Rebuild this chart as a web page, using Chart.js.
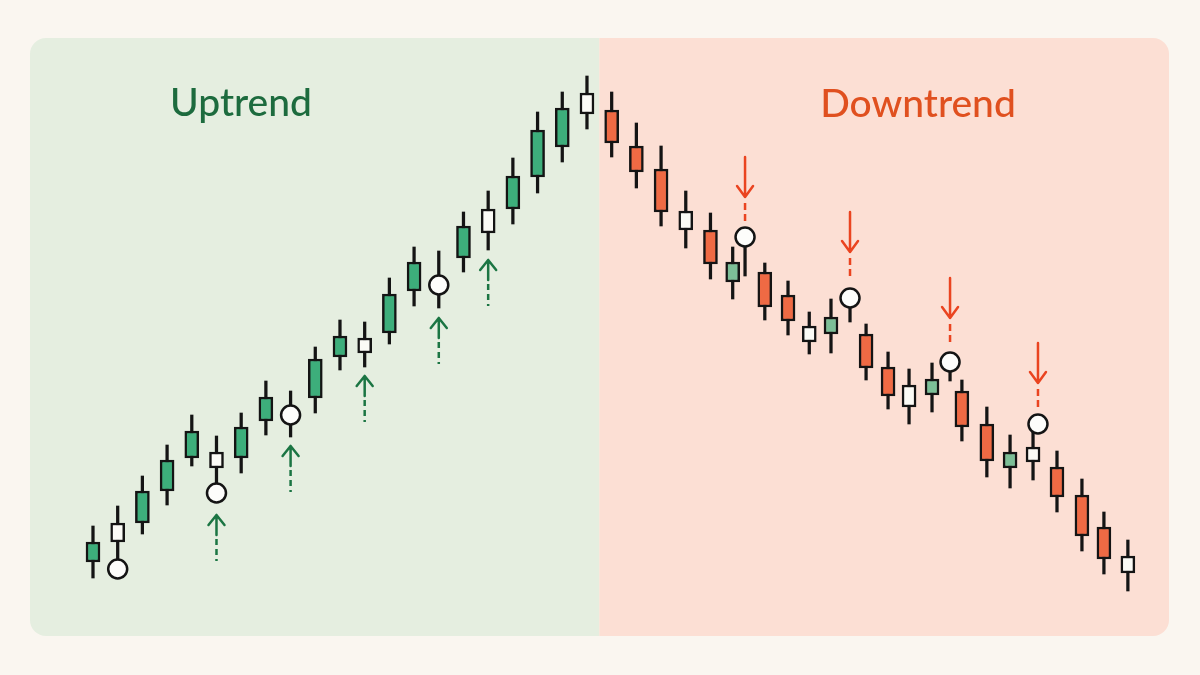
<!DOCTYPE html>
<html>
<head>
<meta charset="utf-8">
<script src="https://cdn.jsdelivr.net/npm/chart.js@4/dist/chart.umd.min.js"></script>
<style>
  html, body { margin: 0; padding: 0; background: #faf6f0; }
  canvas { display: block; }
</style>
</head>
<body>
<canvas id="c" width="1200" height="675"></canvas>
<script>
// ---- Data (time index, prices) ----
const candleX = [0,1,2,3,4,5,6,7,8,9,10,11,12,13,14,15,16,17,18,19,20,
  21,22,23,24,25,25.9,26.4,27.2,28.14,29,29.88,30.65,31.3,32.19,33.04,33.97,34.7,35.18,36.19,37.13,38.06,39.03,40.04,40.93,41.9];
const candleHigh = [28.5,33.5,41,48.75,56.25,51,56.75,64.75,62.25,73.25,80,79.5,90.5,98.25,97.25,107,112.25,120.5,132,137,141,
  137,129.25,123.5,112.25,106.75,98.25,100.75,94.25,89.75,82,85.25,85.5,79,72,67.75,69.25,69.5,65,58.25,51.25,54,47.25,40.25,32,25];
const candleLow = [15.5,17.75,26.5,33.75,43.5,36.75,41.75,51.25,50.75,56.75,67.5,68.25,74,83.5,83,92,97.5,104,111.75,119.5,127.75,
  120.75,113,103.5,98,90.25,85.25,91,80,76.25,71.5,71.75,79.5,65,57.75,54,57,64.75,49.75,40.75,38,40,32,22.25,16.5,12.25];
const candleOpen = [19.5,29.25,29.25,37.25,45.5,47,45.5,54.75,58,60.5,70.75,75.5,76.75,87.25,null,95.5,107.75,107.75,115.75,123.25,136.75,
  132.5,123.5,117.75,107.25,102.5,89.5,null,92,86.25,78.5,76.5,null,76.5,68.25,63.75,61.25,null,62.25,54,43,48.25,43.25,36.25,28.25,21];
const candleClose = [24.5,24.5,37.25,45,52.25,43,53.25,60.75,54.5,70.25,76,71.75,86.5,94.5,null,103.5,101.75,116,127.5,133,131.5,
  124.25,117,107,102.5,94,94.5,null,83.25,79.75,74.5,80.75,null,68,61,58.25,65.25,null,53.25,44.75,47,44.5,35.75,26,20.25,16.75];
const candleKind = ['up','flat','up','up','up','flat','up','up','flat','up','up','flat','up','up','pivot','up','flat','up','up','up','flat',
  'down','down','down','flat','down','weak','pivot','down','down','flat','weak','pivot','down','down','flat','weak','pivot','down','down','weak','flat','down','down','down','flat'];

const swingX = [1,5,8,14,26.4,30.65,34.7,38.26];
const swingY = [17.75,36.75,56.25,88.75,100.75,85.5,69.5,54];

const upArrowX = [5,8,11,14,16];
const upArrowTip = [31.25,48.5,66,80.5,95];
const downArrowX = [26.4,30.65,34.7,38.26];
const downArrowTip = [110.75,97,80.5,64.25];

const phaseLabels = ['Uptrend','Downtrend'];
const phaseSplit = 20.5;

// ---- Styles ----
const kindColor = { up:'#3dae7b', down:'#ef6a44', flat:'#fbfbf6', weak:'#7cbf97', pivot:'rgba(0,0,0,0)' };
const INK = '#141414';

const bodyData = [], wickData = [], bodyColors = [];
candleX.forEach((x, i) => {
  wickData.push({ x, y: [candleLow[i], candleHigh[i]] });
  if (candleOpen[i] !== null) {
    bodyData.push({ x, y: [Math.min(candleOpen[i], candleClose[i]), Math.max(candleOpen[i], candleClose[i])] });
    bodyColors.push(kindColor[candleKind[i]]);
  }
});
const swingData = swingX.map((x, i) => ({ x, y: swingY[i] }));

const bgPlugin = {
  id: 'bg',
  beforeDraw(chart) {
    const ctx = chart.ctx;
    const xs = chart.scales.x;
    const split = xs.getPixelForValue(phaseSplit);
    ctx.save();
    ctx.fillStyle = '#faf6f0';
    ctx.fillRect(0, 0, chart.width, chart.height);
    const L = 30, T = 38, R = 1169, B = 636, r = 16;
    ctx.beginPath();
    ctx.roundRect(L, T, R - L, B - T, r);
    ctx.clip();
    ctx.fillStyle = '#e5eee0';
    ctx.fillRect(L, T, split - L, B - T);
    ctx.fillStyle = '#fcdfd4';
    ctx.fillRect(split, T, R - split, B - T);
    ctx.restore();
    // titles
    ctx.save();
    ctx.font = '500 39px Lato';
    ctx.textAlign = 'center';
    ctx.textBaseline = 'alphabetic';
    ctx.fillStyle = '#1d6b3e';
    ctx.fillText(phaseLabels[0], 241, 116);
    ctx.fillStyle = '#e0501f';
    ctx.fillText(phaseLabels[1], 918, 117);
    ctx.restore();
  }
};

const arrowPlugin = {
  id: 'arrows',
  afterDatasetsDraw(chart) {
    const ctx = chart.ctx;
    const xs = chart.scales.x, ys = chart.scales.y;
    ctx.save();
    ctx.lineWidth = 2.5;
    ctx.lineCap = 'round';
    ctx.lineJoin = 'round';
    // up arrows
    ctx.strokeStyle = '#1b7543';
    upArrowX.forEach((v, i) => {
      const px = xs.getPixelForValue(v), py = ys.getPixelForValue(upArrowTip[i]);
      ctx.setLineDash([]);
      ctx.beginPath();
      ctx.moveTo(px - 8, py + 10); ctx.lineTo(px, py); ctx.lineTo(px + 8, py + 10);
      ctx.moveTo(px, py); ctx.lineTo(px, py + 20);
      ctx.stroke();
      ctx.lineCap = 'butt';
      ctx.setLineDash([6, 4]);
      ctx.beginPath();
      ctx.moveTo(px, py + 24); ctx.lineTo(px, py + 46);
      ctx.stroke();
      ctx.lineCap = 'round';
    });
    // down arrows
    ctx.strokeStyle = '#ea4420';
    downArrowX.forEach((v, i) => {
      const px = xs.getPixelForValue(v), py = ys.getPixelForValue(downArrowTip[i]);
      ctx.setLineDash([]);
      ctx.beginPath();
      ctx.moveTo(px, py - 40); ctx.lineTo(px, py);
      ctx.moveTo(px - 8, py - 11); ctx.lineTo(px, py); ctx.lineTo(px + 8, py - 11);
      ctx.stroke();
      ctx.lineCap = 'butt';
      ctx.setLineDash([7, 4]);
      ctx.beginPath();
      ctx.moveTo(px, py + 6); ctx.lineTo(px, py + 26);
      ctx.stroke();
      ctx.lineCap = 'round';
    });
    ctx.restore();
  }
};

new Chart(document.getElementById('c'), {
  data: {
    datasets: [
      { type: 'bar', label: 'wick', data: wickData, backgroundColor: INK, borderWidth: 0,
        barThickness: 2.6, grouped: false, order: 3 },
      { type: 'bar', label: 'body', data: bodyData, backgroundColor: bodyColors, borderColor: INK,
        borderWidth: 2.5, borderSkipped: false, barThickness: 14, grouped: false, order: 2 },
      { type: 'scatter', label: 'swing', data: swingData, pointRadius: 9.5, pointBackgroundColor: '#fdfdfb',
        pointBorderColor: INK, pointBorderWidth: 2.5, order: 1, clip: false }
    ]
  },
  options: {
    responsive: false,
    animation: false,
    layout: { padding: 0, autoPadding: false },
    plugins: { legend: { display: false }, tooltip: { enabled: false } },
    scales: {
      x: { type: 'linear', min: -3.765, max: 44.82, display: false, offset: false },
      y: { type: 'linear', min: -8.75, max: 160, display: false }
    }
  },
  plugins: [bgPlugin, arrowPlugin]
});
</script>
</body>
</html>
